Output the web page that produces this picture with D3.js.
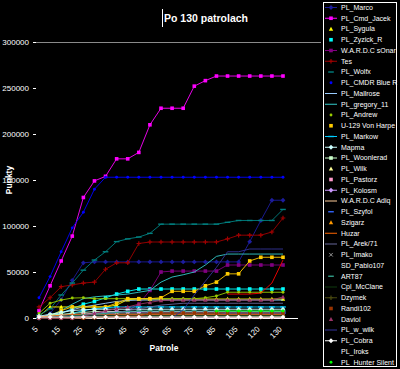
<!DOCTYPE html>
<html>
<head>
<meta charset="utf-8">
<script src="https://cdn.jsdelivr.net/npm/d3@7"></script>
<style>
  html, body { margin: 0; padding: 0; background: #000; }
  svg { display: block; font-family: 'Liberation Sans', Arial, sans-serif; }
</style>
</head>
<body>
<div id="chart"></div>
<script>
// Po 130 patrolach — points per player after each patrol

const patrols = [5, 10, 15, 20, 25, 30, 35, 40, 45, 50, 55, 60, 65, 70, 75, 80, 85, 95, 105, 115, 120, 125, 130];
const tickPatrols = [5, 15, 25, 35, 45, 55, 65, 75, 85, 105, 120, 130];
const yTicks = [0, 50000, 100000, 150000, 200000, 250000, 300000];

const playerNames = [
  'PL_Marco', 'PL_Cmd_Jacek', 'PL_Sygula', 'PL_Zyzick_R', 'W.A.R.D.C sOnar', 'Tes',
  'PL_Wolfx', 'PL_CMDR Blue R', 'PL_Mallrose', 'PL_gregory_11', 'PL_Andrew', 'U-129 Von Harpe',
  'PL_Markow', 'Mapma', 'PL_Woonlerad', 'PL_Wilk', 'PL_Pastorz', 'PL_Kolosm',
  'W.A.R.D.C Adiq', 'PL_Szyfol', 'Szigarz', 'Huzar', 'PL_Arek/71', 'PL_Imako',
  'SD_Pablo107', 'ART87', 'Cpl_McClane', 'Dzymek', 'Randi102', 'Daviol',
  'PL_w_wilk', 'PL_Cobra', 'PL_Iroks', 'PL_Hunter Silent'
];

const r = (v, n) => Array(n).fill(v);

const marco     = [0, 5000, 20000, 41000, 60000, ...r(61000, 14), 83000, 106000, 128000, 128000];
const cmdJacek  = [8000, 35000, 62000, 89000, 131000, 149000, 154000, 173000, 173000, 180000, 210000, 228000, 228000, 228000, 252000, 258000, ...r(263000, 7)];
const sygula    = [2000, 12000, 12000, 12000, 12000, 12000, 12000, 14000, 20000, ...r(20600, 14)];
const zyzick    = [0, 2000, 5000, 10000, 15000, 18000, 22000, 26000, 29000, ...r(31500, 14)];
const sonar     = [0, 0, 0, 1000, 2000, 3000, 4000, 5000, 8000, 15000, 30000, 50000, ...r(51000, 5), ...r(57600, 6)];
const tes       = [12000, 22000, 34000, 36000, 38000, 39000, 53000, 60000, 60000, 81000, ...r(82600, 7), 86000, 90000, 90000, 90000, 93500, 108700];
const wolfx     = [3000, 10000, 25000, 38000, 52000, 63000, 72000, 83000, 86000, 88000, 92000, ...r(102000, 6), 104000, 106000, 106000, 106000, 106000, 118000];
const cmdrBlue  = [22000, 45000, 72000, 98000, 115000, 140000, ...r(153000, 17)];
const mallrose  = [0, 3000, 6000, 9000, 12000, 14000, 16000, 18000, 19000, ...r(19500, 14)];
const gregory   = [0, 3000, 8000, 15000, 21000, 23000, 24000, 25000, 26000, 28000, 30000, 39000, 44500, 47000, 50000, 57600, 67000, ...r(69500, 6)];
const andrew    = [5000, 16000, 19500, 21700, 22000, ...r(21000, 10), 22000, 24000, ...r(28000, 6)];
const vonHarpe  = [0, 2000, 8000, 12000, 12000, 12000, 12000, 16000, 21000, 21000, 21000, 22000, 29000, 29000, 29000, 35000, 39000, 48000, 48000, 62000, 66000, 66000, 66000];
const markow    = [0, 1000, 3000, 5000, 8000, 10000, 11000, ...r(12000, 16)];
const mapma     = [2000, 4000, 6000, 8000, 9000, ...r(9500, 18)];
const woonlerad = [1000, 3000, 4000, 5000, 6000, ...r(7000, 18)];
const wilk      = [...r(null, 17), ...r(1200, 6)];
const pastorz   = r(1000, 23);
const kolosm    = [0, 1000, 2000, 3000, 4000, 5000, 6000, ...r(6500, 16)];
const adiq      = [500, 1500, 2500, 3500, ...r(4300, 19)];
const szyfol    = [0, 500, 1000, 1500, 2000, 2500, ...r(3000, 11), ...r(5400, 6)];
const szigarz   = [0, 1000, 2000, ...r(3300, 20)];
const huzar     = [1000, 2000, 3000, ...r(3800, 20)];
const arek      = [0, 0, 1000, 2000, 3000, 4000, 5000, 6000, 8000, 10000, 12000, 14000, 15000, ...r(16000, 10)];
const imako     = [0, 500, 1000, 1500, ...r(2000, 19)];
const pablo     = [0, 1000, 2000, ...r(3000, 20)];
const art87     = [0, 0, 1000, 2000, 3000, 4000, 5000, 6000, 7000, ...r(7600, 14)];
const mcclane   = [0, 500, 1000, 2000, ...r(2500, 19)];
const dzymek    = [0, 0, 0, 0, 500, 1000, 1500, ...r(2000, 16)];
const randi     = [0, 0, 0, 0, 0, 500, 1000, 1500, 2000, 2000, 5000, ...r(5400, 12)];
const daviol    = [0, 0, 0, 0, 2000, 5000, 8000, 10000, 12000, 15000, 17000, 19000, ...r(19500, 10), 23000];
const wWilk     = [...r(null, 12), 0, 9000, 25000, 40000, 55000, 72000, 72000, 75000, 75000, 75000, 75000];
const cobra     = r(1000, 23);
const iroks     = [...r(null, 17), 26000, 26000, 26000, 27000, 38000, 63000];
const hunter    = [...r(null, 16), ...r(7600, 7)];

const playerValues = [
  marco, cmdJacek, sygula, zyzick, sonar, tes, wolfx, cmdrBlue, mallrose, gregory, andrew, vonHarpe,
  markow, mapma, woonlerad, wilk, pastorz, kolosm, adiq, szyfol, szigarz, huzar, arek, imako,
  pablo, art87, mcclane, dzymek, randi, daviol, wWilk, cobra, iroks, hunter
];

// styles (Excel-like palette)
const playerColors = [
  '#1c1c9c', '#ff00ff', '#ffff00', '#00ffff', '#800080', '#a00000',
  '#008080', '#0000ff', '#99ccff', '#33cccc', '#99cc00', '#ffcc00',
  '#00ccff', '#ccffff', '#ccffcc', '#ffff99', '#ff99cc', '#cc99ff',
  '#ffcc99', '#3366ff', '#ff9900', '#ff6600', '#666699', '#969696',
  '#003366', '#33a08a', '#0f3a0f', '#4a4a10', '#993300', '#993366',
  '#333399', '#ffffff', '#ff0000', '#00ff00'
];
const playerMarkers = [
  'diamond', 'square', 'triangle', 'square', 'square', 'plus',
  'dash', 'circle', 'none', 'none', 'circle', 'square',
  'dash', 'diamond', 'square', 'triangle', 'square', 'diamond',
  'none', 'dash', 'triangle', 'none', 'none', 'x',
  'none', 'dash', 'none', 'plus', 'square', 'triangle',
  'none', 'diamond', 'none', 'circle'
];
// legend entries whose line sample is drawn (others show only the marker)
const legendWithLine = new Set([
  'PL_Marco', 'PL_Cmd_Jacek', 'W.A.R.D.C sOnar', 'Tes', 'PL_Mallrose', 'PL_gregory_11',
  'PL_Markow', 'Mapma', 'PL_Woonlerad', 'PL_Kolosm', 'W.A.R.D.C Adiq', 'Huzar',
  'PL_Arek/71', 'Cpl_McClane', 'Dzymek', 'PL_w_wilk', 'PL_Cobra'
]);

const W = 400, H = 369;
const svg = d3.select('#chart').append('svg').attr('width', W).attr('height', H);
svg.append('rect').attr('width', W).attr('height', H).attr('fill', '#000');

const x = d3.scalePoint().domain(patrols).range([39, 283]);
const y = d3.scaleLinear().domain([0, 300000]).range([318, 42]);

// top gridline
svg.append('line')
  .attr('x1', 35).attr('x2', 321).attr('y1', y(300000) + 0.5).attr('y2', y(300000) + 0.5)
  .attr('stroke', '#8a8a8a').attr('stroke-width', 1);

// y axis (ticks + labels only)
const yAxis = svg.append('g').attr('transform', 'translate(36,0)')
  .call(d3.axisLeft(y).tickValues(yTicks).tickSize(3).tickPadding(4).tickFormat(d3.format('d')));
yAxis.select('.domain').remove();
yAxis.selectAll('line').attr('stroke', '#fff');
yAxis.selectAll('text').attr('fill', '#fff').style('font-size', '8px');

// x axis
const xAxis = svg.append('g').attr('transform', `translate(0,${y(0) + 0.5})`)
  .call(d3.axisBottom(x).tickValues(tickPatrols).tickSize(0).tickPadding(0));
xAxis.select('.domain').remove();
xAxis.selectAll('text')
  .attr('fill', '#fff')
  .style('font-size', '8px')
  .attr('text-anchor', 'end')
  .attr('dy', null)
  .attr('transform', 'translate(-1,11) rotate(-45)');
svg.append('line')
  .attr('x1', 33).attr('x2', 298).attr('y1', y(0) + 0.5).attr('y2', y(0) + 0.5)
  .attr('stroke', '#fff').attr('stroke-width', 1);

function drawMarker(g, type, cx, cy, color) {
  const s = 1.8;
  if (type === 'square') {
    g.append('rect').attr('x', cx - s).attr('y', cy - s).attr('width', 2 * s).attr('height', 2 * s).attr('fill', color);
  } else if (type === 'diamond') {
    g.append('path').attr('d', `M${cx},${cy - s - 0.6}L${cx + s + 0.6},${cy}L${cx},${cy + s + 0.6}L${cx - s - 0.6},${cy}Z`).attr('fill', color);
  } else if (type === 'triangle') {
    g.append('path').attr('d', `M${cx},${cy - s - 0.4}L${cx + s + 0.4},${cy + s}L${cx - s - 0.4},${cy + s}Z`).attr('fill', color);
  } else if (type === 'circle') {
    g.append('circle').attr('cx', cx).attr('cy', cy).attr('r', s * 0.8).attr('fill', color);
  } else if (type === 'plus') {
    g.append('path').attr('d', `M${cx - s - 0.5},${cy}H${cx + s + 0.5}M${cx},${cy - s - 0.5}V${cy + s + 0.5}`)
      .attr('stroke', color).attr('stroke-width', 1.2);
  } else if (type === 'dash') {
    g.append('path').attr('d', `M${cx - s - 1},${cy}H${cx + s + 1}`).attr('stroke', color).attr('stroke-width', 1.4);
  } else if (type === 'x') {
    g.append('path').attr('d', `M${cx - s},${cy - s}L${cx + s},${cy + s}M${cx + s},${cy - s}L${cx - s},${cy + s}`)
      .attr('stroke', color).attr('stroke-width', 1);
  }
}

// series lines
const line = d3.line()
  .defined(d => d.v !== null)
  .x(d => x(d.p))
  .y(d => y(d.v));

const plot = svg.append('g').attr('class', 'series');
playerNames.forEach((name, i) => {
  const pts = patrols.map((p, k) => ({ p, v: playerValues[i][k] }));
  const g = plot.append('g');
  g.append('path')
    .attr('d', line(pts))
    .attr('fill', 'none')
    .attr('stroke', playerColors[i])
    .attr('stroke-width', 0.9);
  pts.filter(d => d.v !== null).forEach(d => drawMarker(g, playerMarkers[i], x(d.p), y(d.v), playerColors[i]));
});

// title
svg.append('line').attr('x1', 162.5).attr('x2', 162.5).attr('y1', 9).attr('y2', 27).attr('stroke', '#fff');
svg.append('text').attr('x', 164).attr('y', 22)
  .attr('fill', '#fff').style('font-size', '10.5px').style('font-weight', 'bold')
  .text('Po 130 patrolach');

// axis titles
svg.append('text').attr('transform', 'translate(12,180) rotate(-90)')
  .attr('text-anchor', 'middle').attr('fill', '#fff')
  .style('font-size', '8.5px').style('font-weight', 'bold').text('Punkty');
svg.append('text').attr('x', 164).attr('y', 351)
  .attr('text-anchor', 'middle').attr('fill', '#fff')
  .style('font-size', '8.5px').style('font-weight', 'bold').text('Patrole');

// legend
const legend = svg.append('g').attr('class', 'legend');
legend.append('rect')
  .attr('x', 323.5).attr('y', 2.5).attr('width', 73).attr('height', 364)
  .attr('fill', '#000').attr('stroke', '#fff').attr('stroke-width', 1);
const rowH = 10.75;
playerNames.forEach((name, i) => {
  const cy = 7.5 + i * rowH;
  const g = legend.append('g');
  if (legendWithLine.has(name)) {
    g.append('line').attr('x1', 325).attr('x2', 337).attr('y1', cy).attr('y2', cy)
      .attr('stroke', playerColors[i]).attr('stroke-width', 1);
  }
  drawMarker(g, playerMarkers[i], 331, cy, playerColors[i]);
  g.append('text').attr('x', 341).attr('y', cy).attr('dy', '0.33em')
    .attr('fill', '#fff').style('font-size', '7px').text(name);
});
</script>
</body>
</html>
